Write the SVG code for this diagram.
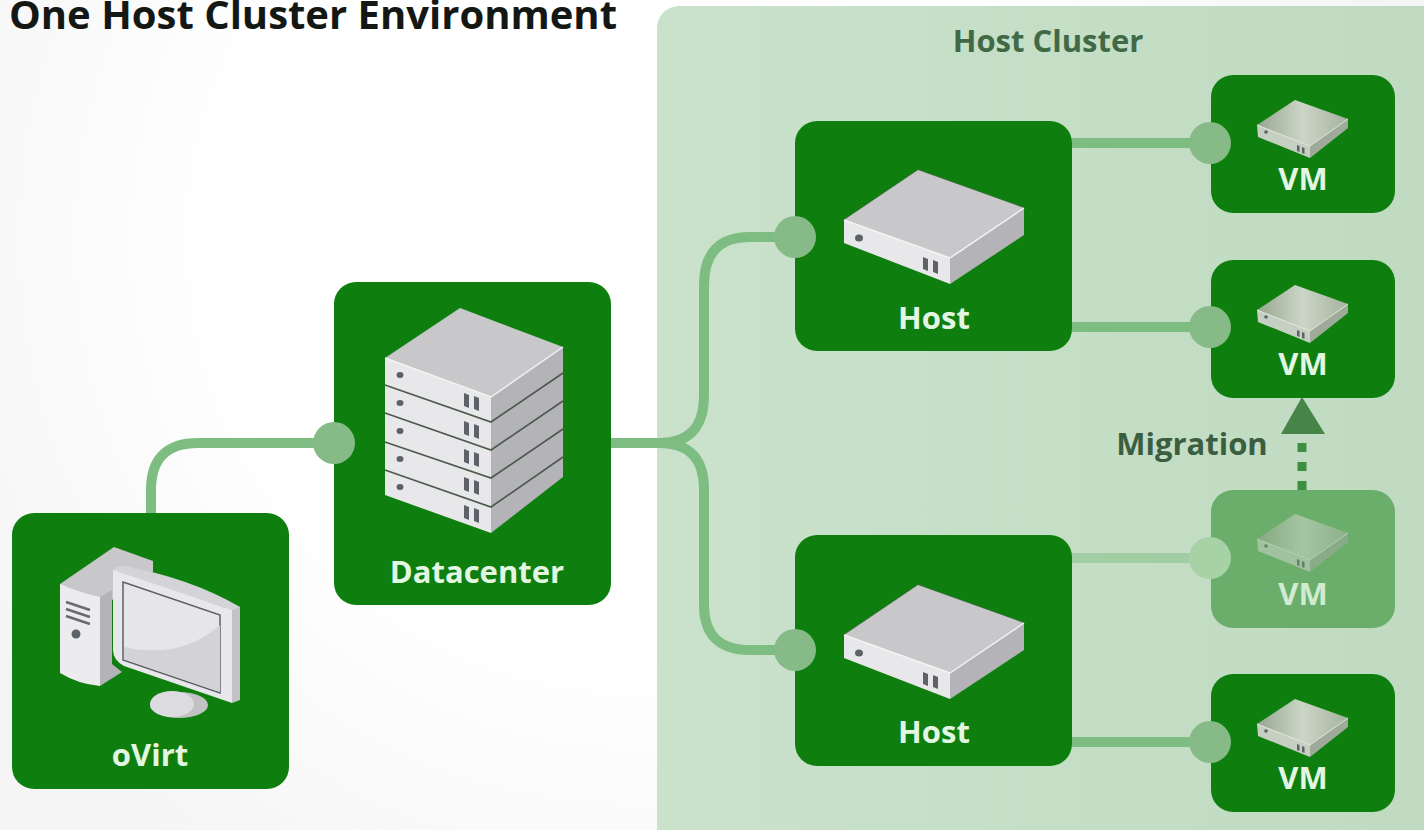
<svg xmlns="http://www.w3.org/2000/svg" xmlns:xlink="http://www.w3.org/1999/xlink" width="1424" height="830" viewBox="0 0 1424 830">
<style>
.node{fill:#0e7f0e}
.lbl{font-family:"Open Sans","Noto Sans",sans-serif;font-weight:700;text-anchor:middle;fill:#e2f6e2}
.big{font-size:31px}
.vm{font-size:31px}
.link{fill:none;stroke:#7dbd82;stroke-width:10}
.dot{fill:#86bb88}
.top{fill:#c8c8ca}.front{fill:#e8e8ea}.side{fill:#b4b4b8}.hi{fill:none;stroke:#f4f4f4;stroke-width:1.5}
.edge{fill:none;stroke:#3f6a45;stroke-width:1.5;stroke-linejoin:round}
.ln{fill:none;stroke:#4c5a4c;stroke-width:1.6}
.hole{fill:#5c6268}
</style>
<defs>
<radialGradient id="bg" gradientUnits="userSpaceOnUse" cx="640" cy="240" r="760">
<stop offset="0" stop-color="#ffffff"/><stop offset=".55" stop-color="#ffffff"/><stop offset="1" stop-color="#f5f5f5"/>
</radialGradient>
<linearGradient id="cl" x1="0" x2="1" y1="0" y2="0">
<stop offset="0" stop-color="#cae2cb"/><stop offset="1" stop-color="#c0dac1"/>
</linearGradient>
<linearGradient id="vmtop" x1="0" x2="1" y1="0" y2="0">
<stop offset="0" stop-color="#96a68f"/><stop offset=".5" stop-color="#ccd6c7"/><stop offset="1" stop-color="#a5b29e"/>
</linearGradient>
<g id="server">
<path class="edge" d="M0 50L74 0L180 38"/>
<path class="top" d="M0 50L74 0L180 38L106 88Z"/>
<path class="front" d="M0 50L106 88V114L0 73Z"/>
<path class="side" d="M106 88L180 38V65L106 114Z"/>
<path class="hi" d="M0 50L106 88L180 38"/>
<ellipse class="hole" cx="15" cy="68" rx="4" ry="3.500"/>
<path class="hole" d="M79 87l5 2v12l-5-2zM89 90l5 2v12l-5-2z"/>
</g>
<g id="vmicon">
<path fill="url(#vmtop)" d="M0 25L38 0L91 19L53 46Z"/>
<path fill="#c6d0c2" d="M0 25L53 46V58L1 37Z"/>
<path fill="#a0aa9a" d="M53 46L91 19V28L53 58Z"/>
<path fill="none" stroke="#e4eae1" stroke-width="1" d="M0 25L53 46L91 19"/>
<circle class="hole" cx="9" cy="32" r="1.800"/>
<path class="hole" d="M40 45l2.500 1v6l-2.500-1zM45 47l2.500 1v6l-2.500-1z"/>
</g>
</defs>
<rect width="1424" height="830" fill="url(#bg)"/>
<rect id="cluster" x="657" y="6" width="800" height="860" rx="22" fill="url(#cl)"/>
<text x="313" y="29" font-family="'Open Sans','Noto Sans',sans-serif" font-weight="700" font-size="40" text-anchor="middle" fill="#141814">One Host Cluster Environment</text>
<text x="1048" y="52" font-family="'Open Sans','Noto Sans',sans-serif" font-weight="700" font-size="31" text-anchor="middle" fill="#3f6a45">Host Cluster</text>

<g id="connectors">
<path class="link" d="M151 513V490Q151 443 198 443H334"/>
<path class="link" d="M611 443H660Q704 443 704 395V285Q704 237 750 237H795"/>
<path class="link" d="M660 443Q704 443 704 490V605Q704 650 750 650H795"/>
<path class="link" d="M1072 143H1210"/>
<path class="link" d="M1072 327H1210"/>
<path class="link" d="M1072 558H1210" stroke-opacity=".5"/>
<path class="link" d="M1072 742H1210"/>
<path d="M1302 443V490" fill="none" stroke="#3d8f40" stroke-width="9" stroke-dasharray="9 10"/>
<path d="M1302 397L1325 434H1281Z" fill="#478447"/>
</g>

<g id="ovirt">
<rect class="node" x="12" y="513" width="277" height="276" rx="22"/>
<path fill="#c8c8ca" d="M60 584L114 547L153 561V572L112 600L108 640L60 610Z"/>
<path fill="#ececee" d="M60 584Q78 592 100 597V686Q78 684 60 673Z"/>
<path fill="#b4b4b8" d="M100 597L112 590V664L122 672L100 686Z"/>
<path fill="none" stroke="#6a6a70" stroke-width="2.500" d="M66 602L90 610M66 609L90 617M66 616L90 624"/>
<circle class="hole" cx="76" cy="634" r="4.500"/>
<ellipse cx="179" cy="705" rx="29" ry="13" fill="#c2c2c4"/>
<ellipse cx="172" cy="704" rx="22" ry="13" fill="#dcdce0"/>
<path fill="#c2c2c6" d="M225 603L240 607V700L232 703Z"/>
<path fill="#d4d4d8" d="M113 572Q114 565 124 566Q190 578 240 607L232 610Z"/>
<path fill="#e8e8ec" d="M113 570L232 610V703L124 666Q113 660 113 650Z"/>
<path fill="#e6e6ea" stroke="#5c6068" stroke-width="1.500" d="M123 582L220 615V693L123 660Z"/>
<path fill="#d3d3d6" d="M124 647Q180 660 220 625V692L124 659Z"/>
<text class="lbl big" x="150" y="766">oVirt</text>
</g>

<g id="datacenter">
<rect class="node" x="334" y="282" width="277" height="323" rx="22"/>
<path class="top" d="M385 358L460 308L563 347L491 397Z"/>
<path class="front" d="M385 358L491 397V533L385 495Z"/>
<path class="side" d="M491 397L563 347V477L491 533Z"/>
<path class="hi" d="M385 358L491 397L563 347"/>
<path class="ln" d="M385 385L491 422L563 373M385 413L491 450L563 401M385 442L491 478L563 429M385 470L491 507L563 457"/>
<g class="hole">
<ellipse cx="400" cy="375" rx="3.500" ry="3"/><ellipse cx="400" cy="403" rx="3.500" ry="3"/><ellipse cx="400" cy="431" rx="3.500" ry="3"/><ellipse cx="400" cy="459" rx="3.500" ry="3"/><ellipse cx="400" cy="487" rx="3.500" ry="3"/>
<path d="M464 393l5 2v13l-5-2zM474 396l5 2v13l-5-2zM464 421l5 2v13l-5-2zM474 424l5 2v13l-5-2zM464 449l5 2v13l-5-2zM474 452l5 2v13l-5-2zM464 477l5 2v13l-5-2zM474 480l5 2v13l-5-2zM464 505l5 2v13l-5-2zM474 508l5 2v13l-5-2z"/>
</g>
<text class="lbl big" x="477" y="583">Datacenter</text>
<circle class="dot" cx="334" cy="443" r="21"/>
</g>

<g id="host1">
<rect class="node" x="795" y="121" width="277" height="230" rx="22"/>
<use xlink:href="#server" x="844" y="170"/>
<text class="lbl big" x="934" y="329">Host</text>
<circle class="dot" cx="795" cy="237" r="21"/>
</g>
<g id="host2">
<rect class="node" x="795" y="535" width="277" height="231" rx="22"/>
<use xlink:href="#server" x="844" y="585"/>
<text class="lbl big" x="934" y="743">Host</text>
<circle class="dot" cx="795" cy="650" r="21"/>
</g>

<g id="vm1">
<rect class="node" x="1211" y="75" width="184" height="138" rx="22"/>
<use xlink:href="#vmicon" x="1257" y="100"/>
<text class="lbl vm" x="1303" y="190">VM</text>
<circle class="dot" cx="1210" cy="143" r="21"/>
</g>
<g id="vm2">
<rect class="node" x="1211" y="260" width="184" height="138" rx="22"/>
<use xlink:href="#vmicon" x="1257" y="285"/>
<text class="lbl vm" x="1303" y="375">VM</text>
<circle class="dot" cx="1210" cy="327" r="21"/>
</g>
<g id="vm3">
<rect x="1211" y="490" width="184" height="138" rx="22" fill="#6bae6b"/>
<use xlink:href="#vmicon" x="1257" y="514" opacity=".6"/>
<text class="lbl vm" x="1303" y="605" opacity=".85">VM</text>
<circle cx="1210" cy="558" r="21" fill="#a6d2a6"/>
</g>
<g id="vm4">
<rect class="node" x="1211" y="674" width="184" height="138" rx="22"/>
<use xlink:href="#vmicon" x="1257" y="699"/>
<text class="lbl vm" x="1303" y="789">VM</text>
<circle class="dot" cx="1210" cy="742" r="21"/>
</g>
<text x="1192" y="455" font-family="'Open Sans','Noto Sans',sans-serif" font-weight="700" font-size="31" text-anchor="middle" fill="#3b5e40">Migration</text>
</svg>
